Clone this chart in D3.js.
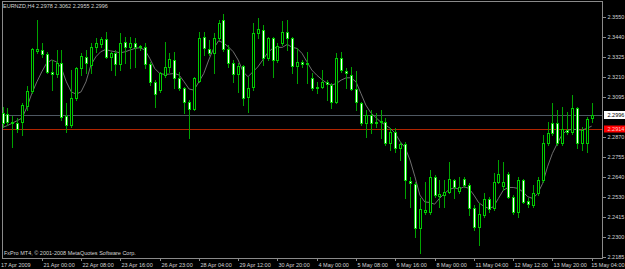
<!DOCTYPE html>
<html>
<head>
<meta charset="utf-8">
<script src="https://cdn.jsdelivr.net/npm/d3@7"></script>
<style>
  html, body { margin: 0; padding: 0; background: #000; }
  svg { display: block; }
  text { font-family: "Liberation Sans", Arial, sans-serif; font-size: 5.5px; fill: #d4d4d4; }
</style>
</head>
<body>
<svg id="chart" width="625" height="269"></svg>
<script>
// EURNZD H4 bars, 17 Apr - 15 May 2009
const opens = [
  2.3007, 2.2999, 2.2946, 2.2946, 2.2955, 2.3047, 2.3132, 2.3360, 2.3364, 2.3341,
  2.3240, 2.3225, 2.3291, 2.2988, 2.2937, 2.3089, 2.3259, 2.3325, 2.3278, 2.3379,
  2.3398, 2.3426, 2.3325, 2.3345, 2.3284, 2.3407, 2.3382, 2.3402, 2.3379, 2.3382,
  2.3284, 2.3180, 2.3136, 2.3221, 2.3268, 2.3307, 2.3202, 2.3146, 2.3069, 2.3026,
  2.3189, 2.3439, 2.3370, 2.3345, 2.3430, 2.3534, 2.3369, 2.3288, 2.3225, 2.3272,
  2.3094, 2.3155, 2.3459, 2.3477, 2.3316, 2.3430, 2.3307, 2.3402, 2.3468, 2.3430,
  2.3272, 2.3297, 2.3284, 2.3202, 2.3146, 2.3151, 2.3180, 2.3164, 2.3069, 2.3316,
  2.3244, 2.3221, 2.3142, 2.3064, 2.2946, 2.2994, 2.2946, 2.2955, 2.2955, 2.2833,
  2.2899, 2.2808, 2.2827, 2.2618, 2.2601, 2.2349, 2.2443, 2.2440, 2.2639, 2.2535,
  2.2539, 2.2557, 2.2624, 2.2561, 2.2630, 2.2595, 2.2463, 2.2358, 2.2425, 2.2514,
  2.2463, 2.2611, 2.2590, 2.2656, 2.2529, 2.2440, 2.2624, 2.2504, 2.2482, 2.2548,
  2.2624, 2.2836, 2.2950, 2.2950, 2.2833, 2.2909, 2.2899, 2.3032, 2.2836, 2.2836,
  2.2978
];
const highs = [
  2.3041, 2.3032, 2.2988, 2.2975, 2.3060, 2.3159, 2.3373, 2.3534, 2.3402, 2.3354,
  2.3307, 2.3364, 2.3364, 2.3060, 2.3250, 2.3268, 2.3345, 2.3364, 2.3402, 2.3430,
  2.3439, 2.3468, 2.3354, 2.3364, 2.3459, 2.3439, 2.3439, 2.3430, 2.3392, 2.3402,
  2.3297, 2.3193, 2.3240, 2.3411, 2.3345, 2.3354, 2.3240, 2.3155, 2.3079, 2.3212,
  2.3468, 2.3468, 2.3420, 2.3459, 2.3534, 2.3568, 2.3392, 2.3307, 2.3288, 2.3278,
  2.3212, 2.3515, 2.3544, 2.3506, 2.3439, 2.3439, 2.3402, 2.3530, 2.3534, 2.3439,
  2.3373, 2.3307, 2.3354, 2.3231, 2.3183, 2.3250, 2.3193, 2.3174, 2.3345, 2.3354,
  2.3259, 2.3268, 2.3246, 2.3069, 2.3022, 2.3022, 2.3003, 2.3022, 2.2975, 2.2918,
  2.2918, 2.2842, 2.2842, 2.2643, 2.2614, 2.2520, 2.2614, 2.2681, 2.2652, 2.2624,
  2.2624, 2.2728, 2.2633, 2.2643, 2.2643, 2.2605, 2.2482, 2.2492, 2.2548, 2.2529,
  2.2662, 2.2738, 2.2728, 2.2671, 2.2539, 2.2643, 2.2633, 2.2520, 2.2595, 2.2643,
  2.2880, 2.2955, 2.3060, 2.3022, 2.3041, 2.3012, 2.3108, 2.3041, 2.2927, 2.2984,
  2.3062
];
const lows = [
  2.2927, 2.2937, 2.2813, 2.2899, 2.2880, 2.3022, 2.3117, 2.3345, 2.3325, 2.3231,
  2.3136, 2.3212, 2.2966, 2.2899, 2.2927, 2.3079, 2.3221, 2.3231, 2.3231, 2.3354,
  2.3382, 2.3316, 2.3250, 2.3221, 2.3250, 2.3288, 2.3259, 2.3268, 2.3364, 2.3259,
  2.3164, 2.3041, 2.3126, 2.3212, 2.3240, 2.3146, 2.3136, 2.3003, 2.2861, 2.3022,
  2.3183, 2.3335, 2.3335, 2.3231, 2.3420, 2.3358, 2.3268, 2.3183, 2.3126, 2.3051,
  2.3012, 2.3136, 2.3430, 2.3278, 2.3307, 2.3212, 2.3297, 2.3392, 2.3364, 2.3231,
  2.3174, 2.3268, 2.3174, 2.3136, 2.3117, 2.3146, 2.3079, 2.3032, 2.3060, 2.3240,
  2.3146, 2.3136, 2.3022, 2.2937, 2.2870, 2.2893, 2.2927, 2.2861, 2.2823, 2.2795,
  2.2785, 2.2738, 2.2520, 2.2472, 2.2301, 2.2207, 2.2434, 2.2434, 2.2529, 2.2472,
  2.2472, 2.2548, 2.2520, 2.2548, 2.2586, 2.2425, 2.2339, 2.2254, 2.2415, 2.2443,
  2.2453, 2.2605, 2.2567, 2.2520, 2.2434, 2.2415, 2.2492, 2.2472, 2.2472, 2.2539,
  2.2614, 2.2823, 2.2880, 2.2823, 2.2823, 2.2889, 2.2889, 2.2804, 2.2795, 2.2785,
  2.2955
];
const closes = [
  2.2946, 2.2955, 2.2955, 2.2912, 2.3051, 2.3130, 2.3367, 2.3368, 2.3339, 2.3240,
  2.3225, 2.3291, 2.2984, 2.2937, 2.3089, 2.3259, 2.3329, 2.3288, 2.3379, 2.3402,
  2.3426, 2.3325, 2.3345, 2.3284, 2.3405, 2.3379, 2.3402, 2.3382, 2.3386, 2.3282,
  2.3180, 2.3111, 2.3231, 2.3268, 2.3311, 2.3202, 2.3146, 2.3066, 2.3026, 2.3202,
  2.3430, 2.3373, 2.3348, 2.3430, 2.3519, 2.3369, 2.3288, 2.3227, 2.3272, 2.3092,
  2.3146, 2.3462, 2.3481, 2.3316, 2.3433, 2.3307, 2.3386, 2.3468, 2.3430, 2.3272,
  2.3293, 2.3282, 2.3288, 2.3146, 2.3155, 2.3183, 2.3168, 2.3069, 2.3316, 2.3250,
  2.3231, 2.3142, 2.3066, 2.2946, 2.2994, 2.2946, 2.2955, 2.2959, 2.2833, 2.2899,
  2.2808, 2.2829, 2.2624, 2.2605, 2.2349, 2.2457, 2.2453, 2.2639, 2.2539, 2.2543,
  2.2554, 2.2628, 2.2586, 2.2586, 2.2595, 2.2463, 2.2358, 2.2434, 2.2514, 2.2459,
  2.2611, 2.2656, 2.2613, 2.2529, 2.2440, 2.2624, 2.2500, 2.2486, 2.2548, 2.2624,
  2.2836, 2.2893, 2.2893, 2.2833, 2.2912, 2.2899, 2.3032, 2.2836, 2.2909, 2.2971,
  2.2996
];
// grey moving average line as drawn on the chart
const maValues = [
  2.2924, 2.2934, 2.2948, 2.2962, 2.2977, 2.3041, 2.3119, 2.3183, 2.3240, 2.3290,
  2.3307, 2.3297, 2.3261, 2.3183, 2.3126, 2.3113, 2.3126, 2.3183, 2.3278, 2.3325,
  2.3354, 2.3367, 2.3359, 2.3354, 2.3348, 2.3354, 2.3364, 2.3373, 2.3377, 2.3364,
  2.3316, 2.3259, 2.3231, 2.3225, 2.3227, 2.3231, 2.3221, 2.3183, 2.3142, 2.3136,
  2.3183, 2.3231, 2.3307, 2.3373, 2.3416, 2.3405, 2.3382, 2.3354, 2.3307, 2.3240,
  2.3212, 2.3240, 2.3268, 2.3307, 2.3348, 2.3373, 2.3379, 2.3379, 2.3396, 2.3379,
  2.3373, 2.3345, 2.3297, 2.3250, 2.3221, 2.3197, 2.3177, 2.3164, 2.3174, 2.3193,
  2.3206, 2.3206, 2.3183, 2.3117, 2.3051, 2.3007, 2.2981, 2.2955, 2.2937, 2.2918,
  2.2890, 2.2842, 2.2809, 2.2738, 2.2643, 2.2539, 2.2500, 2.2497, 2.2487, 2.2520,
  2.2548, 2.2571, 2.2580, 2.2573, 2.2586, 2.2577, 2.2539, 2.2495, 2.2476, 2.2463,
  2.2472, 2.2520, 2.2567, 2.2582, 2.2582, 2.2577, 2.2557, 2.2529, 2.2520, 2.2548,
  2.2605, 2.2700, 2.2776, 2.2833, 2.2884, 2.2908, 2.2912, 2.2912, 2.2908, 2.2918,
  2.2931
];

// one label every 8 bars
const timeLabels = [
  "17 Apr 2009", "21 Apr 00:00", "22 Apr 08:00", "23 Apr 16:00", "26 Apr 23:00",
  "28 Apr 04:00", "29 Apr 12:00", "30 Apr 20:00", "4 May 00:00", "5 May 08:00",
  "6 May 16:00", "8 May 00:00", "11 May 04:00", "12 May 12:00", "13 May 20:00",
  "15 May 04:00"
];
const priceTicks = [2.3550, 2.3440, 2.3325, 2.3210, 2.3095, 2.2870, 2.2755, 2.2640, 2.2530, 2.2415, 2.2300, 2.2185];
const bidPrice = 2.2996;
const hlinePrice = 2.2914;
const headerText = "EURNZD,H4  2.2978 2.3062 2.2955 2.2996";
const footerText = "FxPro MT4, \u00a9 2001-2008 MetaQuotes Software Corp.";

const svg = d3.select("#chart");
const plotLeft = 2, plotRight = 602, plotTop = 1, plotBottom = 258;

const x = d3.scaleLinear().domain([0, opens.length - 1]).range([2.5, 591.7]);
const y = d3.scaleLinear().domain([2.2185, 2.3550]).range([257.3, 17.3]);

svg.append("rect").attr("width", 625).attr("height", 269).attr("fill", "#000");

// frame
svg.append("rect")
  .attr("x", plotLeft + 0.5).attr("y", plotTop + 0.5)
  .attr("width", plotRight - plotLeft).attr("height", plotBottom - plotTop)
  .attr("fill", "none").attr("stroke", "#8a8a8a").attr("stroke-width", 1);

const plot = svg.append("g");

// horizontal lines (bid + user line)
const py = v => Math.round(y(v)) + 0.5;
plot.append("line")
  .attr("x1", plotLeft + 1).attr("x2", plotRight).attr("y1", py(bidPrice)).attr("y2", py(bidPrice))
  .attr("stroke", "#4e5862").attr("stroke-width", 1);
plot.append("line")
  .attr("x1", plotLeft + 1).attr("x2", plotRight).attr("y1", py(hlinePrice)).attr("y2", py(hlinePrice))
  .attr("stroke", "#b02400").attr("stroke-width", 1);

// moving average
const maLine = d3.line().x((d, i) => x(i)).y(d => y(d));
plot.append("path")
  .attr("d", maLine(maValues))
  .attr("fill", "none").attr("stroke", "#7c7c7c").attr("stroke-width", 0.9);

// candles
const bars = opens.map((o, i) => ({ i, o, h: highs[i], l: lows[i], c: closes[i] }));
const candle = plot.selectAll("g.candle").data(bars).join("g").attr("class", "candle");

candle.append("line")
  .attr("x1", d => Math.round(x(d.i)) + 0.5).attr("x2", d => Math.round(x(d.i)) + 0.5)
  .attr("y1", d => Math.round(y(d.h))).attr("y2", d => Math.round(y(d.l)) + 1)
  .attr("stroke", "#00a400").attr("stroke-width", 1);

candle.append("rect")
  .attr("x", d => Math.round(x(d.i)) - 0.5)
  .attr("y", d => Math.round(y(Math.max(d.o, d.c))) + 0.5)
  .attr("width", 2)
  .attr("height", d => Math.max(1, Math.round(y(Math.min(d.o, d.c))) - Math.round(y(Math.max(d.o, d.c)))))
  .attr("fill", d => d.c < d.o ? "#ffffff" : "#000000")
  .attr("stroke", "#00cc00").attr("stroke-width", 1);

// price axis
const axisG = svg.append("g");
axisG.selectAll("line.tick").data(priceTicks).join("line")
  .attr("x1", plotRight + 1).attr("x2", plotRight + 4)
  .attr("y1", d => py(d)).attr("y2", d => py(d))
  .attr("stroke", "#8a8a8a");
axisG.selectAll("text.price").data(priceTicks).join("text")
  .attr("x", plotRight + 5.5).attr("y", d => y(d) + 2.1)
  .text(d => d.toFixed(4));

// bid label box
svg.append("rect").attr("x", plotRight + 2).attr("y", py(bidPrice) - 4.5).attr("width", 21).attr("height", 8).attr("fill", "#ffffff");
svg.append("text").attr("x", plotRight + 5.5).attr("y", y(bidPrice) + 2.1).style("fill", "#000").text(bidPrice.toFixed(4));
// line label box
svg.append("rect").attr("x", plotRight + 2).attr("y", py(hlinePrice) - 4).attr("width", 21).attr("height", 7).attr("fill", "#ff0000");
svg.append("text").attr("x", plotRight + 5.5).attr("y", y(hlinePrice) + 2.1).style("fill", "#ffc8c8").text(hlinePrice.toFixed(4));

// time axis
const timeG = svg.append("g");
timeLabels.forEach((lab, k) => {
  const bx = Math.round(x(k * 8));
  if (k > 0) {
    timeG.append("line")
      .attr("x1", bx + 0.5).attr("x2", bx + 0.5).attr("y1", plotBottom + 1).attr("y2", plotBottom + 3)
      .attr("stroke", "#8a8a8a");
  }
  const last = k === timeLabels.length - 1;
  timeG.append("text")
    .attr("x", k === 0 ? 1 : (last ? 624.5 : bx + 1.5))
    .attr("y", 267)
    .attr("text-anchor", last ? "end" : "start")
    .text(lab);
});

svg.append("text").attr("x", 3).attr("y", 8.3).text(headerText);
svg.append("text").attr("x", 4).attr("y", 255.3).text(footerText);
</script>
</body>
</html>
